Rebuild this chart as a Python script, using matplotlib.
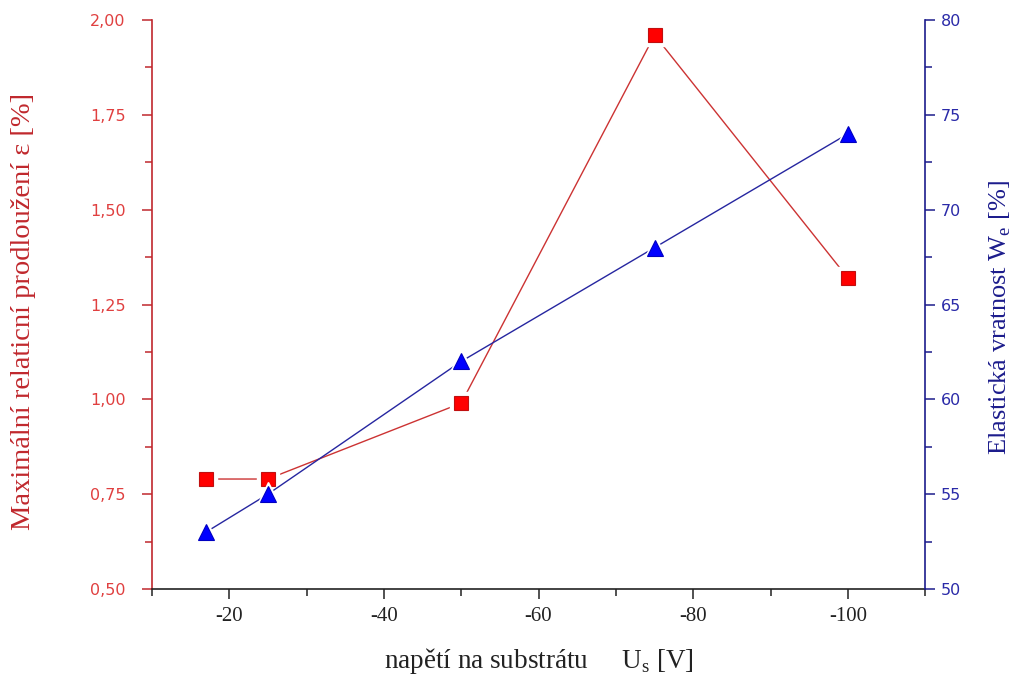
import matplotlib
matplotlib.use("Agg")
import matplotlib.pyplot as plt
from matplotlib.ticker import MultipleLocator, FuncFormatter

plt.rcParams['font.family'] = ['Liberation Serif', 'DejaVu Serif']
plt.rcParams['mathtext.fontset'] = 'custom'
plt.rcParams['mathtext.rm'] = 'Liberation Serif'

# substrate bias voltage [V]
napeti = [-17, -25, -50, -75, -100]
# max. relative elongation [%]
prodlouzeni = [0.79, 0.79, 0.99, 1.96, 1.32]
# elastic recovery We [%]
vratnost = [53, 55, 62, 68, 74]

RED_AX = '#c0282d'
RED_TXT = '#e04040'
RED_LINE = '#cc3333'
BLUE_AX = '#1c1c8c'
BLUE_TXT = '#2a2aa8'
BLUE_LINE = '#2626a0'

fig = plt.figure(figsize=(10.19, 6.79), dpi=100)
ax = fig.add_axes([0.149, 0.1325, 0.759, 0.838])
ax2 = ax.twinx()

# lines first, then white halos so lines stop short of markers, then markers
ax.plot(napeti, prodlouzeni, '-', color=RED_LINE, lw=1.0, zorder=2)
ax2.plot(napeti, vratnost, '-', color=BLUE_LINE, lw=1.0, zorder=2)
ax.plot(napeti, prodlouzeni, 's', ms=16, color='white', mec='white', zorder=3)
ax2.plot(napeti, vratnost, '^', ms=18, color='white', mec='white', zorder=3)
ax.plot(napeti, prodlouzeni, 's', ms=9.5, color='#ff0000', mec='#c01010', mew=0.8, zorder=4)
ax2.plot(napeti, vratnost, '^', ms=12, color='#0000ff', mec='#0000c0', mew=0.8, zorder=4)

ax.set_xlim(-10, -110)
ax.set_ylim(0.5, 2.0)
ax2.set_ylim(50, 80)

ax.set_xticks([-20, -40, -60, -80, -100])
ax.xaxis.set_minor_locator(MultipleLocator(10))
ax.yaxis.set_major_locator(MultipleLocator(0.25))
ax.yaxis.set_minor_locator(MultipleLocator(0.125))
ax2.yaxis.set_major_locator(MultipleLocator(5))
ax2.yaxis.set_minor_locator(MultipleLocator(2.5))

ax.yaxis.set_major_formatter(FuncFormatter(lambda v, p: f"{v:.2f}".replace('.', ',')))
ax.xaxis.set_major_formatter(FuncFormatter(lambda v, p: f"{v:.0f}"))

for a in (ax, ax2):
    a.spines['top'].set_visible(False)
ax.spines['right'].set_visible(False)
ax.spines['left'].set_color(RED_AX)
ax.spines['bottom'].set_color('#222222')
ax2.spines['left'].set_visible(False)
ax2.spines['bottom'].set_visible(False)
ax2.spines['right'].set_color(BLUE_AX)
for s in ('left', 'bottom'):
    ax.spines[s].set_linewidth(1.2)
ax2.spines['right'].set_linewidth(1.2)

ax.tick_params(axis='x', which='major', direction='out', length=7, width=1.1,
               color='#222222', labelsize=15, pad=6, labelcolor='#222222')
ax.tick_params(axis='x', which='minor', direction='out', length=5, width=1.1, color='#222222')
ax.tick_params(axis='y', which='major', direction='out', length=7, width=1.1,
               color=RED_AX, labelcolor=RED_TXT, labelsize=11.5, pad=12)
ax.tick_params(axis='y', which='minor', direction='out', length=5, width=1.1, color=RED_AX)
ax2.tick_params(axis='y', which='major', direction='out', length=7, width=1.1,
                color=BLUE_AX, labelcolor=BLUE_TXT, labelsize=11.5, pad=4)
ax2.tick_params(axis='y', which='minor', direction='out', length=5, width=1.1, color=BLUE_AX)
for lab in ax.get_yticklabels() + ax2.get_yticklabels():
    lab.set_family('DejaVu Sans')

ax.set_xlabel(r"napětí na substrátu     U$_\mathregular{s}$ [V]", fontsize=19.5,
              color='#222222', labelpad=14)
ax.set_ylabel("Maximální relaticní prodloužení ε [%]", fontsize=20.5, color=RED_AX)
ax.yaxis.set_label_coords(-0.15, 0.487)
ax2.set_ylabel(r"Elastická vratnost W$_\mathregular{e}$ [%]", fontsize=19, color=BLUE_AX)
ax2.yaxis.set_label_coords(1.08, 0.478)

fig.savefig("out.png", dpi=100)
